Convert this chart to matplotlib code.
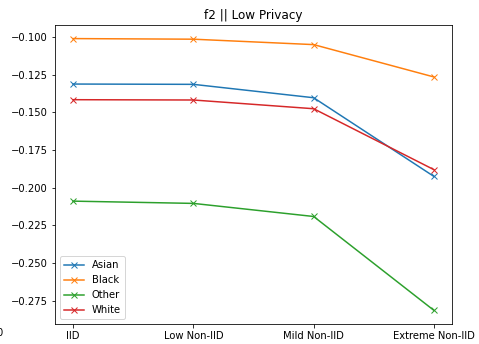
import matplotlib
matplotlib.use('Agg')
from matplotlib import pyplot as plt

# f2 scores per data split, one list per group
settings = ['IID', 'Low Non-IID', 'Mild Non-IID', 'Extreme Non-IID']
asian = [-0.1311, -0.1313, -0.1402, -0.1925]
black = [-0.1009, -0.1013, -0.1049, -0.1264]
other = [-0.2089, -0.2104, -0.2191, -0.2815]
white = [-0.1415, -0.1417, -0.1475, -0.1880]

W, H, DPI = 479, 344, 72
fig = plt.figure(figsize=(W / DPI, H / DPI), dpi=DPI)
ax = fig.add_axes([55 / W, (H - 324) / H, (452 - 55) / W, (324 - 25) / H])

ax.plot(settings, asian, marker='x', label='Asian')
ax.plot(settings, black, marker='x', label='Black')
ax.plot(settings, other, marker='x', label='Other')
ax.plot(settings, white, marker='x', label='White')

ax.set_title('f2 || Low Privacy')
ax.legend(loc='lower left')

# leftover tick label from the neighbouring panel
fig.text(3 / W, (H - 333) / H, '0', ha='right', va='center', fontsize=10)

plt.savefig('out.png', dpi=DPI)
